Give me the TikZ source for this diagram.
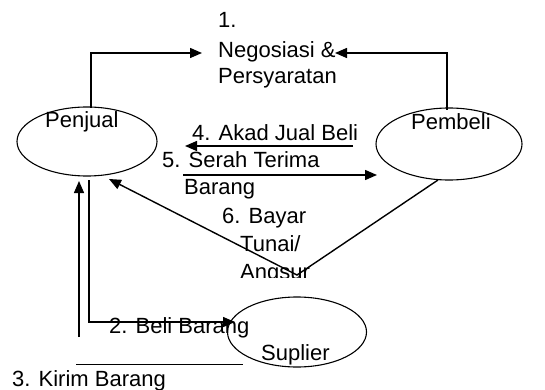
\documentclass[tikz,border=0pt]{standalone}
\usepackage{fontspec}
\setmainfont{Liberation Sans}
\usetikzlibrary{shapes.geometric,arrows.meta}
\begin{document}
\begin{tikzpicture}[x=1pt,y=-1pt,
  lbl/.style={anchor=base west,inner sep=0pt,font=\fontsize{22}{27}\selectfont},
  proc/.style={ellipse,draw,line width=1.1pt,inner sep=0pt},
  arr/.style={line width=1.4pt,-{Triangle[length=12pt,width=10pt]}},
  ln/.style={line width=1.4pt}]
\useasboundingbox (0,0) rectangle (545,390);
% ellipses
\node[proc,minimum width=140pt,minimum height=69pt] (penjual) at (87,141.5) {};
\node[proc,minimum width=146pt,minimum height=72pt] (pembeli) at (449,144) {};
\node[proc,minimum width=139pt,minimum height=70pt] (suplier) at (297,332) {};
% texts
\node[lbl] (t1a) at (218,28) {1.};
\node[lbl] (t1b) at (218,58) {Negosiasi \&};
\node[lbl] (t1c) at (218,84) {Persyaratan};
\node[lbl] (tpj) at (45,128) {Penjual};
\node[lbl] (tpb) at (411,130) {Pembeli};
\node[lbl] (t4) at (192,140) {4. Akad Jual Beli};
\node[lbl] (t5a) at (162,167) {5. Serah Terima};
\node[lbl] (t5b) at (184,194) {Barang};
\node[lbl] (t6a) at (222,223) {6. Bayar};
\node[lbl] (t6b) at (240,251) {Tunai/};
\begin{scope}
\clip (230,256) rectangle (330,277);
\node[lbl] (t6c) at (240,279) {Angsur};
\end{scope}
\node[lbl] (t2) at (109,333) {2. Beli Barang};
\node[lbl] (tsp) at (261,360) {Suplier};
\node[lbl] (t3) at (12,386) {3. Kirim Barang};
% coordinates
\coordinate (a1s) at (91,108);
\coordinate (a1e) at (202,53);
\coordinate (b1s) at (447,110);
\coordinate (b1e) at (335,53);
\coordinate (a4s) at (353,146);
\coordinate (a4e) at (185,146);
\coordinate (a5s) at (183,175);
\coordinate (a5e) at (377,175);
\coordinate (a6s) at (438,180);
\coordinate (a6m) at (297,275);
\coordinate (a6e) at (109,179);
\coordinate (a2s) at (89,180);
\coordinate (a2e) at (235,322);
\coordinate (a3s) at (79,337);
\coordinate (a3e) at (79,181);
\coordinate (l3s) at (76,364);
\coordinate (l3e) at (243,364);
% connectors
\draw[arr] (a1s) |- (a1e);
\draw[arr] (b1s) |- (b1e);
\draw[arr] (a4s) -- (a4e);
\draw[arr] (a5s) -- (a5e);
\draw[arr] (a6s) -- (a6m) -- (a6e);
\draw[arr] (a2s) |- (a2e);
\draw[arr] (a3s) -- (a3e);
\draw[line width=1pt] (l3s) -- (l3e);
\end{tikzpicture}
\end{document}
